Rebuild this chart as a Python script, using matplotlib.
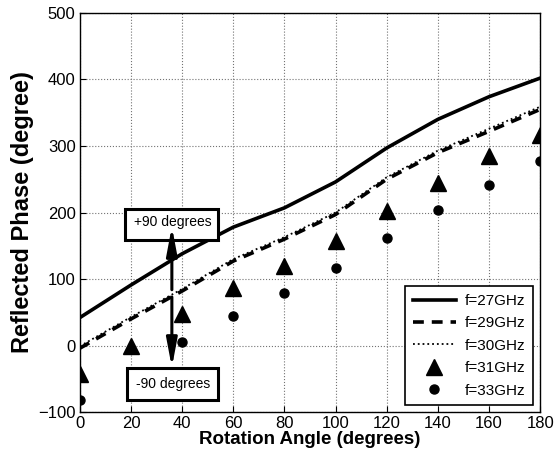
import numpy as np
import matplotlib.pyplot as plt
from matplotlib.patches import Rectangle

plt.rcParams['font.family'] = ['Liberation Sans', 'DejaVu Sans']

# angulo de rotacion y fase reflejada para cada frecuencia
angle = [0, 20, 40, 60, 80, 100, 120, 140, 160, 180]
f27 = [42, 91, 138, 178, 207, 246, 297, 340, 374, 402]
f29 = [-4, 40, 82, 127, 160, 197, 250, 290, 322, 355]
f30 = [-1, 43, 85, 130, 163, 200, 253, 293, 326, 359]
f31 = [-43, 0, 47, 87, 120, 157, 202, 245, 285, 317]
f33 = [-82, -39, 5, 45, 79, 117, 162, 204, 242, 277]

fig = plt.figure(figsize=(5.58, 4.61), dpi=100)
ax = fig.add_axes([0.143, 0.106, 0.825, 0.866])

ax.plot(angle, f27, 'k-', lw=2.6, label='f=27GHz')
ax.plot(angle, f29, 'k--', lw=2.6, dashes=(3, 2.2), label='f=29GHz')
ax.plot(angle, f30, 'k:', lw=1.3, label='f=30GHz')
ax.plot(angle, f31, 'k^', ms=11, ls='none', label='f=31GHz')
ax.plot(angle, f33, 'ko', ms=6.5, ls='none', label='f=33GHz')

ax.set_xlim(0, 180)
ax.set_ylim(-100, 500)
ax.set_xticks(range(0, 181, 20))
ax.set_yticks(range(-100, 501, 100))
ax.grid(True, ls=':', color='0.45', lw=0.8)
ax.tick_params(direction='in', labelsize=12, length=4, pad=3)
for s in ax.spines.values():
    s.set_linewidth(1.0)

ax.set_xlabel('Rotation Angle (degrees)', fontsize=13.5, fontweight='bold', labelpad=0)
ax.set_ylabel('Reflected Phase (degree)', fontsize=17, fontweight='bold', labelpad=3)

# cajas de texto y flechas
for x0, x1, y0, y1 in [(17.8, 54.2, 159, 206), (18.5, 54.0, -82.5, -34)]:
    ax.add_patch(Rectangle((x0, y0), x1 - x0, y1 - y0, fc='white', ec='black',
                           lw=2.2, zorder=5))
ax.text(36.3, 186, '+90 degrees', fontsize=10, ha='center', va='center', zorder=6)
ax.text(36.3, -58, '-90 degrees', fontsize=10, ha='center', va='center', zorder=6)

head = '-|>,head_length=0.85,head_width=0.16'
ax.annotate('', xy=(36, 179), xytext=(36, 84),
            arrowprops=dict(arrowstyle=head, color='k', lw=2.2, mutation_scale=20,
                            shrinkA=0, shrinkB=0), zorder=7)
ax.annotate('', xy=(36, -33), xytext=(36, 73),
            arrowprops=dict(arrowstyle=head, color='k', lw=2.2, mutation_scale=20,
                            shrinkA=0, shrinkB=0), zorder=7)

leg = ax.legend(loc='lower right', fontsize=11, handlelength=2.8, handletextpad=0.6,
                fancybox=False, edgecolor='black', framealpha=1, borderaxespad=0.45,
                labelspacing=0.55, borderpad=0.5)
leg.get_frame().set_linewidth(1.2)

plt.savefig('out.png', dpi=100)
